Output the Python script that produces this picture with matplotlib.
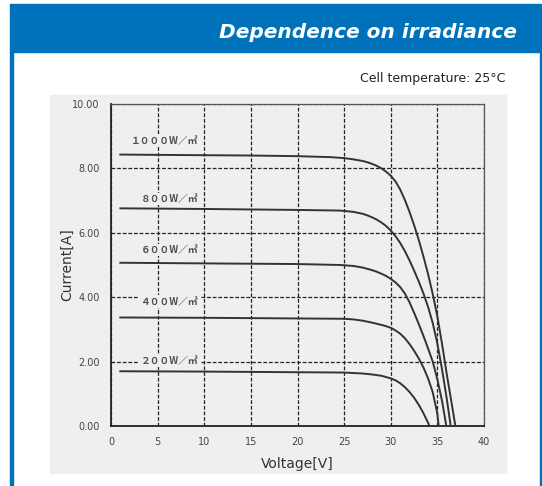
import matplotlib
matplotlib.use('Agg')
import matplotlib.pyplot as plt
from matplotlib.patches import Rectangle

W, H = 542, 486

# I-V curves (voltage in V, current in A)
v_1000 = [1, 5, 10, 15, 20, 23.5, 25, 26, 27, 27.5, 28, 28.5, 29, 29.5, 30, 30.5, 31, 31.5, 32, 32.5, 33, 33.5, 34, 34.5, 35, 35.5, 36, 36.5, 36.93]
i_1000 = [8.43, 8.42, 8.41, 8.40, 8.38, 8.35, 8.32, 8.28, 8.23, 8.19, 8.14, 8.08, 8.0, 7.9, 7.77, 7.6, 7.35, 7.03, 6.66, 6.24, 5.78, 5.27, 4.72, 4.1, 3.4, 2.55, 1.62, 0.76, 0.0]

v_800 = [1, 10, 20, 24.6, 26, 27, 27.5, 28, 28.5, 29, 29.5, 30, 30.5, 31, 31.5, 32, 32.5, 33, 33.5, 34, 34.5, 35, 35.5, 36, 36.43]
i_800 = [6.76, 6.74, 6.71, 6.69, 6.65, 6.59, 6.54, 6.48, 6.41, 6.32, 6.21, 6.07, 5.9, 5.69, 5.44, 5.15, 4.83, 4.49, 4.12, 3.7, 3.2, 2.56, 1.76, 0.86, 0.0]

v_600 = [1, 10, 20, 24.6, 26, 27, 28, 28.5, 29, 29.5, 30, 30.5, 31, 31.5, 32, 32.5, 33, 33.5, 34, 34.5, 35, 35.5, 35.96]
i_600 = [5.07, 5.05, 5.03, 5.0, 4.97, 4.92, 4.84, 4.79, 4.73, 4.66, 4.57, 4.46, 4.32, 4.12, 3.85, 3.52, 3.17, 2.8, 2.41, 2.0, 1.45, 0.78, 0.0]

v_400 = [1, 10, 20, 25, 26, 27, 28, 29, 29.5, 30, 30.5, 31, 31.5, 32, 32.5, 33, 33.5, 34, 34.5, 35, 35.14]
i_400 = [3.37, 3.36, 3.34, 3.33, 3.31, 3.27, 3.21, 3.14, 3.1, 3.05, 2.97, 2.87, 2.73, 2.55, 2.34, 2.1, 1.82, 1.48, 1.05, 0.38, 0.0]

v_200 = [1, 10, 20, 25, 27, 28, 29, 29.5, 30, 30.5, 31, 31.5, 32, 32.5, 33, 33.5, 34, 34.14]
i_200 = [1.70, 1.69, 1.67, 1.66, 1.63, 1.6, 1.56, 1.52, 1.48, 1.42, 1.33, 1.21, 1.06, 0.88, 0.66, 0.4, 0.1, 0.0]

curve_labels = ['１０００W／㎡', '８００W／㎡', '６００W／㎡', '４００W／㎡', '２００W／㎡']
label_y = [8.85, 7.05, 5.47, 3.86, 2.03]

x_ticks = [0, 5, 10, 15, 20, 25, 30, 35, 40]
y_ticks = [0, 2, 4, 6, 8, 10]

blue = '#0071bb'
panel = '#efefef'

fig = plt.figure(figsize=(W / 100, H / 100), dpi=100)
fig.patch.set_facecolor('white')

def rect(x0, y0, x1, y1, color):
    # pixel box (top-left origin) -> figure fraction
    fig.patches.append(Rectangle((x0 / W, 1 - y1 / H), (x1 - x0) / W, (y1 - y0) / H,
                                 transform=fig.transFigure, color=color, zorder=-10))

rect(10, 4, W, 52, blue)
rect(10, 52, 13, H, blue)
rect(540, 52, W, H, blue)
rect(50, 95, 506, 473, panel)

fig.text(517 / W, 1 - 32 / H, 'Dependence on irradiance', color='white',
         fontsize=14.5, fontweight='bold', fontstyle='italic', ha='right', va='center')
fig.text(505 / W, 1 - 78 / H, 'Cell temperature: 25°C', color='#222222',
         fontsize=9, ha='right', va='center')

ax = fig.add_axes([111 / W, (H - 426) / H, (484 - 111) / W, (426 - 104) / H])
ax.set_zorder(5)
ax.set_facecolor(panel)

curves = [(v_1000, i_1000), (v_800, i_800), (v_600, i_600), (v_400, i_400), (v_200, i_200)]
for v, i in curves:
    ax.plot(v, i, color='#333333', lw=1.4, zorder=3, solid_joinstyle='round')

for lab, y in zip(curve_labels, label_y):
    ax.text(9.35, y, lab, ha='right', va='center', fontsize=7, color='#505050',
            fontweight='bold', family=['Noto Sans CJK JP', 'DejaVu Sans'], zorder=4,
            bbox=dict(facecolor=panel, edgecolor='none', pad=1.0))

ax.set_xlim(0, 40)
ax.set_ylim(0, 10)
ax.set_xticks(x_ticks)
ax.set_yticks(y_ticks)
ax.set_yticklabels(['%.2f' % t for t in y_ticks])
ax.tick_params(length=0, labelsize=7, labelcolor='#444444', pad=8)
ax.grid(True, color='#222222', lw=0.9, linestyle=(0, (3, 1.5)), zorder=1)

for s in ['left', 'bottom']:
    ax.spines[s].set_color('#222222')
    ax.spines[s].set_linewidth(1.3)
for s in ['top', 'right']:
    ax.spines[s].set_color('#555555')
    ax.spines[s].set_linewidth(0.9)

ax.set_xlabel('Voltage[V]', fontsize=10, color='#333333', labelpad=7)
ax.set_ylabel('Current[A]', fontsize=10, color='#333333', labelpad=-1)

plt.savefig('out.png', dpi=100)
